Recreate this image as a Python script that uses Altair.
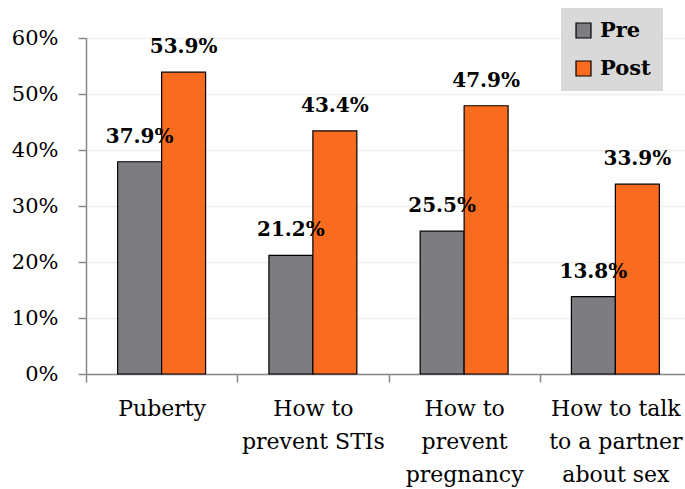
import altair as alt
import pandas as pd

categories = ["Puberty", "How to prevent STIs", "How to prevent pregnancy", "How to talk to a partner about sex"]
label_lines = [["Puberty"], ["How to", "prevent STIs"], ["How to", "prevent", "pregnancy"], ["How to talk", "to a partner", "about sex"]]
pre_values = [37.9, 21.2, 25.5, 13.8]
post_values = [53.9, 43.4, 47.9, 33.9]
series = ["Pre", "Post"]
colors = ["#7c7c81", "#f96b1e"]
y_ticks = [0, 10, 20, 30, 40, 50, 60]

FONT = "DejaVu Serif"

rows = []
for c, a, b in zip(categories, pre_values, post_values):
    rows.append({"category": c, "series": "Pre", "value": a, "label": f"{a:.1f}%"})
    rows.append({"category": c, "series": "Post", "value": b, "label": f"{b:.1f}%"})
df = pd.DataFrame(rows)

# build multi-line label expression
expr = "[datum.label]"
for c, lines in reversed(list(zip(categories, label_lines))):
    arr = "[" + ",".join("'" + l + "'" for l in lines) + "]"
    expr = f"datum.label == '{c}' ? {arr} : ({expr})"

x_enc = alt.X(
    "category:N", sort=categories,
    scale=alt.Scale(range=[0, 605], paddingInner=0, paddingOuter=0),
    axis=alt.Axis(title=None, labelAngle=0, tickBand="extent", labelExpr=expr,
                  labelFont=FONT, labelFontSize=22, labelColor="black",
                  labelLineHeight=33, labelPadding=16, labelBaseline="top",
                  labelLimit=0, tickSize=8, tickColor="#888888", tickWidth=1.5,
                  domainColor="#888888", domainWidth=1.5, grid=False),
)
y_enc = alt.Y(
    "value:Q", scale=alt.Scale(domain=[0, 60], nice=False),
    axis=alt.Axis(title=None, values=y_ticks, labelExpr="datum.value + '%'",
                  labelFont=FONT, labelFontSize=21, labelColor="black",
                  labelPadding=20, tickSize=8, tickColor="#888888", tickWidth=1.5,
                  domainColor="#888888", domainWidth=1.5,
                  gridColor="#eeeeee", gridWidth=1.5),
)
xoff = alt.XOffset("series:N", sort=series,
                   scale=alt.Scale(paddingOuter=0.72, paddingInner=0))

base = alt.Chart(df).encode(x=x_enc, y=y_enc, xOffset=xoff)

bars = base.mark_bar(stroke="black", strokeWidth=1.2).encode(
    color=alt.Color("series:N", sort=series,
                    scale=alt.Scale(domain=series, range=colors),
                    legend=alt.Legend(orient="none", legendX=475, legendY=-30, title=None,
                                      fillColor="#d9d9d9", padding=12,
                                      symbolType="square", symbolSize=225,
                                      symbolStrokeColor="black", symbolStrokeWidth=1.2,
                                      labelFont=FONT, labelFontWeight="bold",
                                      labelFontSize=21, labelColor="black",
                                      rowPadding=16, labelOffset=6))
)

texts = base.mark_text(font=FONT, fontWeight="bold", fontSize=20,
                       baseline="alphabetic", dy=-19, color="black").encode(
    text="label:N"
)

chart = alt.layer(bars, texts).properties(
    width=599, height=336,
    autosize=alt.AutoSizeParams(type="none"),
    padding={"left": 86, "top": 38, "right": 0, "bottom": 115},
).configure_view(stroke=None).configure(background="white")

chart.save("out.html", embed_options={"renderer": "svg", "actions": False})
